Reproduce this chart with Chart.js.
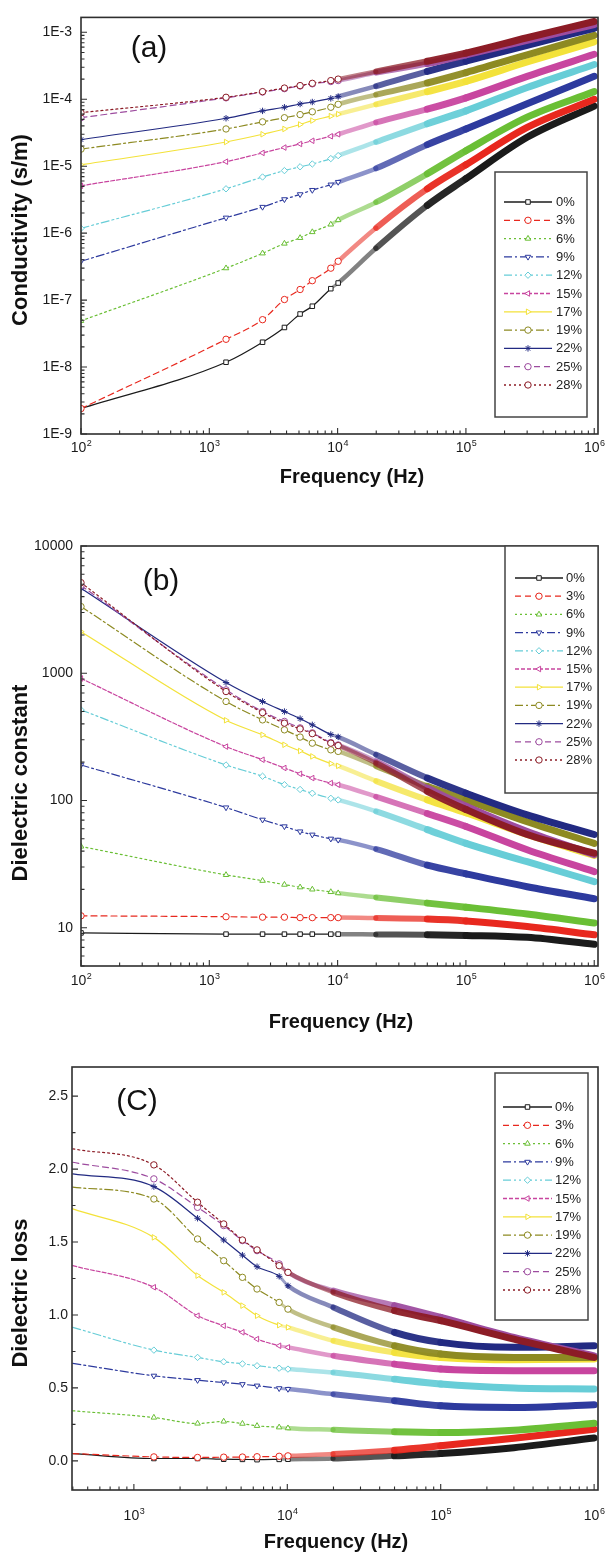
<!DOCTYPE html>
<html>
<head>
<meta charset="utf-8">
<script src="https://cdn.jsdelivr.net/npm/chart.js@4.4.1/dist/chart.umd.min.js"></script>
<style>
  html, body { margin: 0; padding: 0; background: #fff; }
  .panel { position: absolute; left: 0; width: 605px; height: 520px; }
</style>
</head>
<body>
<div class="panel" style="top:0"><canvas id="chartA" width="605" height="520"></canvas></div>
<div class="panel" style="top:520px"><canvas id="chartB" width="605" height="520"></canvas></div>
<div class="panel" style="top:1040px"><canvas id="chartC" width="605" height="520"></canvas></div>
<script>
// filler loadings, one curve each
var loadings = ['0%', '3%', '6%', '9%', '12%', '15%', '17%', '19%', '22%', '25%', '28%'];

var freqAB = [100, 1350, 2600, 3850, 5100, 6350, 8850, 10100, 20000, 50000, 100000, 300000, 1000000];
var freqC = [400, 1350, 2600, 3850, 5100, 6350, 8850, 10100, 20000, 50000, 100000, 300000, 1000000];

// (a) conductivity, s/m
var conductivity = [
  [2.4e-9, 1.18e-8, 2.35e-8, 3.9e-8, 6.2e-8, 8.1e-8, 1.48e-7, 1.8e-7, 6.0e-7, 2.6e-6, 6.5e-6, 2.7e-5, 7.9e-5],
  [2.4e-9, 2.6e-8, 5.1e-8, 1.02e-7, 1.44e-7, 1.95e-7, 3.0e-7, 3.8e-7, 1.2e-6, 4.6e-6, 1.05e-5, 3.8e-5, 1.0e-4],
  [4.9e-8, 3.0e-7, 5.0e-7, 7.0e-7, 8.5e-7, 1.04e-6, 1.35e-6, 1.57e-6, 2.9e-6, 7.7e-6, 1.7e-5, 5.4e-5, 1.3e-4],
  [3.8e-7, 1.7e-6, 2.46e-6, 3.2e-6, 3.8e-6, 4.4e-6, 5.3e-6, 5.8e-6, 9.3e-6, 2.1e-5, 3.6e-5, 8.6e-5, 2.2e-4],
  [1.18e-6, 4.6e-6, 6.9e-6, 8.6e-6, 9.8e-6, 1.08e-5, 1.3e-5, 1.44e-5, 2.3e-5, 4.3e-5, 6.7e-5, 1.5e-4, 3.3e-4],
  [5.1e-6, 1.17e-5, 1.58e-5, 1.9e-5, 2.15e-5, 2.4e-5, 2.8e-5, 3.0e-5, 4.5e-5, 7.1e-5, 1.05e-4, 2.2e-4, 4.7e-4],
  [1.05e-5, 2.3e-5, 3.0e-5, 3.6e-5, 4.2e-5, 4.8e-5, 5.6e-5, 6.0e-5, 8.4e-5, 1.3e-4, 1.85e-4, 3.6e-4, 7.2e-4],
  [1.8e-5, 3.6e-5, 4.6e-5, 5.3e-5, 5.9e-5, 6.5e-5, 7.6e-5, 8.4e-5, 1.17e-4, 1.75e-4, 2.5e-4, 4.6e-4, 9.0e-4],
  [2.5e-5, 5.2e-5, 6.7e-5, 7.6e-5, 8.5e-5, 9.1e-5, 1.03e-4, 1.1e-4, 1.57e-4, 2.6e-4, 3.7e-4, 6.4e-4, 1.15e-3],
  [5.3e-5, 1.05e-4, 1.28e-4, 1.44e-4, 1.58e-4, 1.7e-4, 1.84e-4, 1.9e-4, 2.5e-4, 3.4e-4, 4.6e-4, 7.6e-4, 1.3e-3],
  [6.3e-5, 1.07e-4, 1.3e-4, 1.47e-4, 1.6e-4, 1.73e-4, 1.9e-4, 2.0e-4, 2.6e-4, 3.7e-4, 4.9e-4, 8.3e-4, 1.45e-3]
];

// (b) dielectric constant
var dielectricConstant = [
  [9.1, 8.9, 8.9, 8.9, 8.9, 8.9, 8.9, 8.9, 8.85, 8.8, 8.7, 8.4, 7.4],
  [12.4, 12.2, 12.1, 12.1, 12.0, 12.0, 12.0, 12.0, 11.9, 11.7, 11.3, 10.2, 8.8],
  [43.5, 26, 23.4, 21.8, 20.8, 20, 19.1, 18.7, 17.3, 15.6, 14.5, 12.8, 10.9],
  [190, 88, 70.5, 62.5, 57, 53.8, 50, 49, 41.5, 31, 26.5, 21, 16.9],
  [515, 190, 155, 133, 122, 114, 104, 101, 82, 59, 46, 33, 23],
  [910, 265, 209, 180, 162, 150, 137, 133, 107, 79, 62.5, 41, 27.6],
  [2120, 427, 328, 274, 245, 222, 195, 187, 142, 101, 80, 54, 37],
  [3340, 600, 430, 359, 315, 282, 250, 243, 186, 129, 101, 68, 46],
  [4650, 845, 600, 500, 440, 393, 330, 316, 229, 150, 114, 77, 54],
  [4900, 740, 500, 418, 372, 340, 285, 273, 203, 125, 90, 57, 37.5],
  [5150, 718, 490, 405, 365, 335, 282, 270, 196, 118, 85, 54, 38.5]
];

// (c) dielectric loss
var dielectricLoss = [
  [0.05, 0.016, 0.016, 0.011, 0.010, 0.008, 0.010, 0.011, 0.016, 0.034, 0.05, 0.09, 0.156],
  [0.05, 0.027, 0.023, 0.025, 0.026, 0.028, 0.031, 0.034, 0.046, 0.073, 0.103, 0.155, 0.217],
  [0.343, 0.297, 0.256, 0.27, 0.255, 0.24, 0.23, 0.224, 0.213, 0.199, 0.194, 0.21, 0.258],
  [0.668, 0.583, 0.553, 0.537, 0.525, 0.515, 0.497, 0.492, 0.457, 0.412, 0.377, 0.366, 0.384],
  [0.915, 0.759, 0.709, 0.679, 0.665, 0.652, 0.635, 0.629, 0.606, 0.56, 0.526, 0.499, 0.492],
  [1.338, 1.19, 0.995, 0.926, 0.881, 0.835, 0.789, 0.778, 0.72, 0.663, 0.629, 0.618, 0.618],
  [1.727, 1.532, 1.27, 1.155, 1.064, 0.995, 0.93, 0.915, 0.823, 0.743, 0.709, 0.693, 0.698],
  [1.876, 1.795, 1.521, 1.372, 1.258, 1.178, 1.086, 1.04, 0.915, 0.789, 0.732, 0.709, 0.709],
  [1.967, 1.88, 1.663, 1.514, 1.41, 1.331, 1.265, 1.2, 1.052, 0.881, 0.812, 0.778, 0.789],
  [2.047, 1.933, 1.738, 1.613, 1.51, 1.441, 1.35, 1.292, 1.167, 1.064, 0.983, 0.846, 0.72],
  [2.139, 2.029, 1.773, 1.624, 1.514, 1.446, 1.338, 1.292, 1.155, 1.029, 0.961, 0.835, 0.709]
];

var colors = ['#1b1b1b', '#e8281e', '#6abf35', '#2d3a9e', '#67cdd7', '#c8459f', '#f3e23a', '#8d8a22', '#222a82', '#9d4c9f', '#8c1c26'];
var dashes = [[], [6, 4], [2, 3], [8, 3, 2, 3], [8, 3, 2, 3, 2, 3], [4, 2], [], [8, 3, 2, 3], [], [6, 4], [2, 3]];
var markers = ['rect', 'circle', 'triangle', 'triangle', 'rectRot', 'triangle', 'triangle', 'circle', 'star', 'circle', 'circle'];
var markerTurn = [0, 0, 0, 180, 0, 270, 90, 0, 0, 0, 0];

var fontFamily = '"Liberation Sans", Arial, sans-serif';

function withAlpha(hex, a) {
  var n = parseInt(hex.slice(1), 16);
  return 'rgba(' + (n >> 16) + ',' + ((n >> 8) & 255) + ',' + (n & 255) + ',' + a + ')';
}

// the dense measured points pile up into a thick band at high frequency
function bandWidth(f) {
  if (f < 8000) return 1.2;
  if (f < 10000) return 3;
  if (f < 15000) return 4.5;
  if (f < 40000) return 6;
  return 7;
}
function bandAlpha(f) {
  if (f < 8000) return 1;
  if (f < 10000) return 0.45;
  if (f < 15000) return 0.55;
  if (f < 40000) return 0.75;
  if (f < 80000) return 0.95;
  return 1;
}

function makeDatasets(freq, rows, edgeFreq) {
  return rows.map(function (row, i) {
    return {
      label: loadings[i],
      data: row.map(function (v, j) { return { x: freq[j], y: v }; }),
      borderColor: colors[i],
      borderWidth: 1.2,
      borderDash: dashes[i],
      borderCapStyle: 'round',
      borderJoinStyle: 'round',
      pointStyle: markers[i],
      pointRotation: markerTurn[i],
      pointBackgroundColor: '#fff',
      pointBorderColor: colors[i],
      pointBorderWidth: 1,
      pointRadius: function (c) {
        var f = c.raw ? c.raw.x : 0;
        return (f > 12000 || f === edgeFreq) ? 0 : 3.2;
      },
      cubicInterpolationMode: 'monotone',
      order: rows.length - i,
      segment: {
        borderWidth: function (c) { return bandWidth(c.p0.parsed.x); },
        borderDash: function (c) { return c.p0.parsed.x >= 8000 ? [] : undefined; },
        borderColor: function (c) { return withAlpha(colors[i], bandAlpha(c.p0.parsed.x)); }
      }
    };
  });
}

function logTicks(lo, hi) {
  var major = [], minor = [];
  for (var k = lo; k <= hi; k++) {
    major.push(Math.pow(10, k));
    for (var m = 2; m <= 9; m++) minor.push(m * Math.pow(10, k));
  }
  return { major: major, minor: minor };
}

var panelPlugin = {
  id: 'panel',
  afterDatasetsDraw: function (chart, args, o) {
    var ctx = chart.ctx, a = chart.chartArea, xs = chart.scales.x, ys = chart.scales.y;
    ctx.save();
    ctx.strokeStyle = '#2e2e2e';
    ctx.lineWidth = 1.6;
    ctx.strokeRect(a.left, a.top, a.right - a.left, a.bottom - a.top);

    // inward tick marks on bottom and left axes
    ctx.lineWidth = 1.1;
    ctx.beginPath();
    function xt(v, len) {
      var p = xs.getPixelForValue(v);
      if (p < a.left - 0.5 || p > a.right + 0.5) return;
      ctx.moveTo(p, a.bottom); ctx.lineTo(p, a.bottom - len);
    }
    function yt(v, len) {
      var p = ys.getPixelForValue(v);
      if (p < a.top - 0.5 || p > a.bottom + 0.5) return;
      ctx.moveTo(a.left, p); ctx.lineTo(a.left + len, p);
    }
    o.xMajor.forEach(function (v) { xt(v, 6); });
    o.xMinor.forEach(function (v) { xt(v, 3.5); });
    o.yMajor.forEach(function (v) { yt(v, 6); });
    o.yMinor.forEach(function (v) { yt(v, 3.5); });
    ctx.stroke();

    // x labels as 10 with superscript exponent
    ctx.fillStyle = '#1a1a1a';
    ctx.textAlign = 'left';
    ctx.textBaseline = 'alphabetic';
    o.xMajor.forEach(function (v) {
      var p = xs.getPixelForValue(v);
      if (p < a.left - 1 || p > a.right + 1) return;
      var exp = String(Math.round(Math.log10(v)));
      ctx.font = '14px ' + fontFamily;
      var w1 = ctx.measureText('10').width;
      ctx.font = '9px ' + fontFamily;
      var w2 = ctx.measureText(exp).width;
      var x0 = p - (w1 + w2) / 2;
      ctx.font = '14px ' + fontFamily;
      ctx.fillText('10', x0, a.bottom + o.xLabelDy);
      ctx.font = '9px ' + fontFamily;
      ctx.fillText(exp, x0 + w1 + 0.5, a.bottom + o.xLabelDy - 6);
    });

    // axis titles
    ctx.fillStyle = '#111';
    ctx.textAlign = 'center';
    ctx.textBaseline = 'middle';
    ctx.font = 'bold 20px ' + fontFamily;
    ctx.fillText('Frequency (Hz)', o.xTitle[0], o.xTitle[1]);
    ctx.save();
    ctx.translate(o.yTitle[0], o.yTitle[1]);
    ctx.rotate(-Math.PI / 2);
    ctx.font = 'bold 22px ' + fontFamily;
    ctx.fillText(o.yTitle[2], 0, 0);
    ctx.restore();

    // panel tag
    ctx.font = '30px ' + fontFamily;
    ctx.fillText(o.tag, o.tagX, o.tagY);

    // boxed legend
    var L = o.legend;
    ctx.fillStyle = '#fff';
    ctx.fillRect(L.x, L.y, L.w, L.h);
    ctx.strokeStyle = '#444';
    ctx.lineWidth = 1.5;
    ctx.strokeRect(L.x, L.y, L.w, L.h);
    chart.data.datasets.forEach(function (ds, i) {
      var y = L.row0 + i * L.step;
      ctx.strokeStyle = ds.borderColor;
      ctx.lineWidth = 1.3;
      ctx.setLineDash(ds.borderDash);
      ctx.beginPath();
      ctx.moveTo(L.lineX0, y);
      ctx.lineTo(L.lineX1, y);
      ctx.stroke();
      ctx.setLineDash([]);
      ctx.fillStyle = '#fff';
      ctx.lineWidth = 1;
      Chart.helpers.drawPoint(ctx, { pointStyle: ds.pointStyle, rotation: ds.pointRotation, radius: 3.2, borderWidth: 1 },
        (L.lineX0 + L.lineX1) / 2, y);
      ctx.fillStyle = '#222';
      ctx.font = '13px ' + fontFamily;
      ctx.textAlign = 'left';
      ctx.textBaseline = 'middle';
      ctx.fillText(ds.label, L.textX, y + 0.5);
    });
    ctx.restore();
  }
};

function xAxis(min, max, height) {
  return {
    type: 'logarithmic', min: min, max: max,
    ticks: { display: false },
    grid: { display: false, drawTicks: false },
    border: { display: false },
    afterFit: function (s) { s.height = height; }
  };
}

function baseOptions(padTop) {
  return {
    responsive: false,
    animation: false,
    layout: { padding: { top: padTop, right: 7, left: 0, bottom: 0 } },
    plugins: { legend: { display: false }, tooltip: { enabled: false } }
  };
}

// (a) conductivity
var xa = logTicks(2, 6);
var ya = logTicks(-9, -4);
var optA = baseOptions(14);
optA.scales = {
  x: xAxis(100, 1.07e6, 86),
  y: {
    type: 'logarithmic', min: 1e-9, max: 1.67e-3,
    afterBuildTicks: function (s) {
      s.ticks = [-9, -8, -7, -6, -5, -4, -3].map(function (k) { return { value: Math.pow(10, k) }; });
    },
    ticks: { callback: function (v) { return '1E' + Math.round(Math.log10(v)); },
      font: { size: 14, family: fontFamily }, color: '#1a1a1a', padding: 9 },
    grid: { display: false, drawTicks: false },
    border: { display: false },
    afterFit: function (s) { s.width = 81; }
  }
};
optA.plugins.panel = {
  xMajor: xa.major, xMinor: xa.minor,
  yMajor: [-9, -8, -7, -6, -5, -4, -3].map(function (k) { return Math.pow(10, k); }),
  yMinor: ya.minor,
  xLabelDy: 18, xTitle: [352, 477], yTitle: [21, 230, 'Conductivity (s/m)'],
  tag: '(a)', tagX: 149, tagY: 49,
  legend: { x: 495, y: 172, w: 92, h: 245, row0: 202, step: 18.3, lineX0: 504, lineX1: 552, textX: 556 }
};
new Chart(document.getElementById('chartA').getContext('2d'), {
  type: 'line',
  data: { datasets: makeDatasets(freqAB, conductivity, -1) },
  options: optA,
  plugins: [panelPlugin]
});

// (b) dielectric constant
var yb = logTicks(0, 3);
var optB = baseOptions(26);
optB.scales = {
  x: xAxis(100, 1.07e6, 74),
  y: {
    type: 'logarithmic', min: 5, max: 10000,
    afterBuildTicks: function (s) {
      s.ticks = [10, 100, 1000, 10000].map(function (v) { return { value: v }; });
    },
    ticks: { callback: function (v) { return String(Math.round(v)); },
      font: { size: 14, family: fontFamily }, color: '#1a1a1a', padding: 8 },
    grid: { display: false, drawTicks: false },
    border: { display: false },
    afterFit: function (s) { s.width = 81; }
  }
};
optB.plugins.panel = {
  xMajor: xa.major, xMinor: xa.minor,
  yMajor: [10, 100, 1000, 10000], yMinor: yb.minor,
  xLabelDy: 19, xTitle: [341, 502], yTitle: [21, 263, 'Dielectric constant'],
  tag: '(b)', tagX: 161, tagY: 62,
  legend: { x: 505, y: 26, w: 93, h: 247, row0: 58, step: 18.2, lineX0: 515, lineX1: 563, textX: 566 }
};
new Chart(document.getElementById('chartB').getContext('2d'), {
  type: 'line',
  data: { datasets: makeDatasets(freqAB, dielectricConstant, -1) },
  options: optB,
  plugins: [panelPlugin]
});

// (c) dielectric loss
var optC = baseOptions(27);
optC.scales = {
  x: xAxis(395, 1.06e6, 70),
  y: {
    type: 'linear', min: -0.2, max: 2.7,
    afterBuildTicks: function (s) {
      s.ticks = [0, 0.5, 1, 1.5, 2, 2.5].map(function (v) { return { value: v }; });
    },
    ticks: { callback: function (v) { return v.toFixed(1); },
      font: { size: 14, family: fontFamily }, color: '#1a1a1a', padding: 4 },
    grid: { display: false, drawTicks: false },
    border: { display: false },
    afterFit: function (s) { s.width = 72; }
  }
};
optC.plugins.panel = {
  xMajor: xa.major, xMinor: xa.minor,
  yMajor: [0, 0.5, 1, 1.5, 2, 2.5], yMinor: [0.25, 0.75, 1.25, 1.75, 2.25],
  xLabelDy: 30, xTitle: [336, 502], yTitle: [21, 253, 'Dielectric loss'],
  tag: '(C)', tagX: 137, tagY: 62,
  legend: { x: 495, y: 33, w: 93, h: 247, row0: 67, step: 18.3, lineX0: 503, lineX1: 552, textX: 555 }
};
new Chart(document.getElementById('chartC').getContext('2d'), {
  type: 'line',
  data: { datasets: makeDatasets(freqC, dielectricLoss, 400) },
  options: optC,
  plugins: [panelPlugin]
});
</script>
</body>
</html>
